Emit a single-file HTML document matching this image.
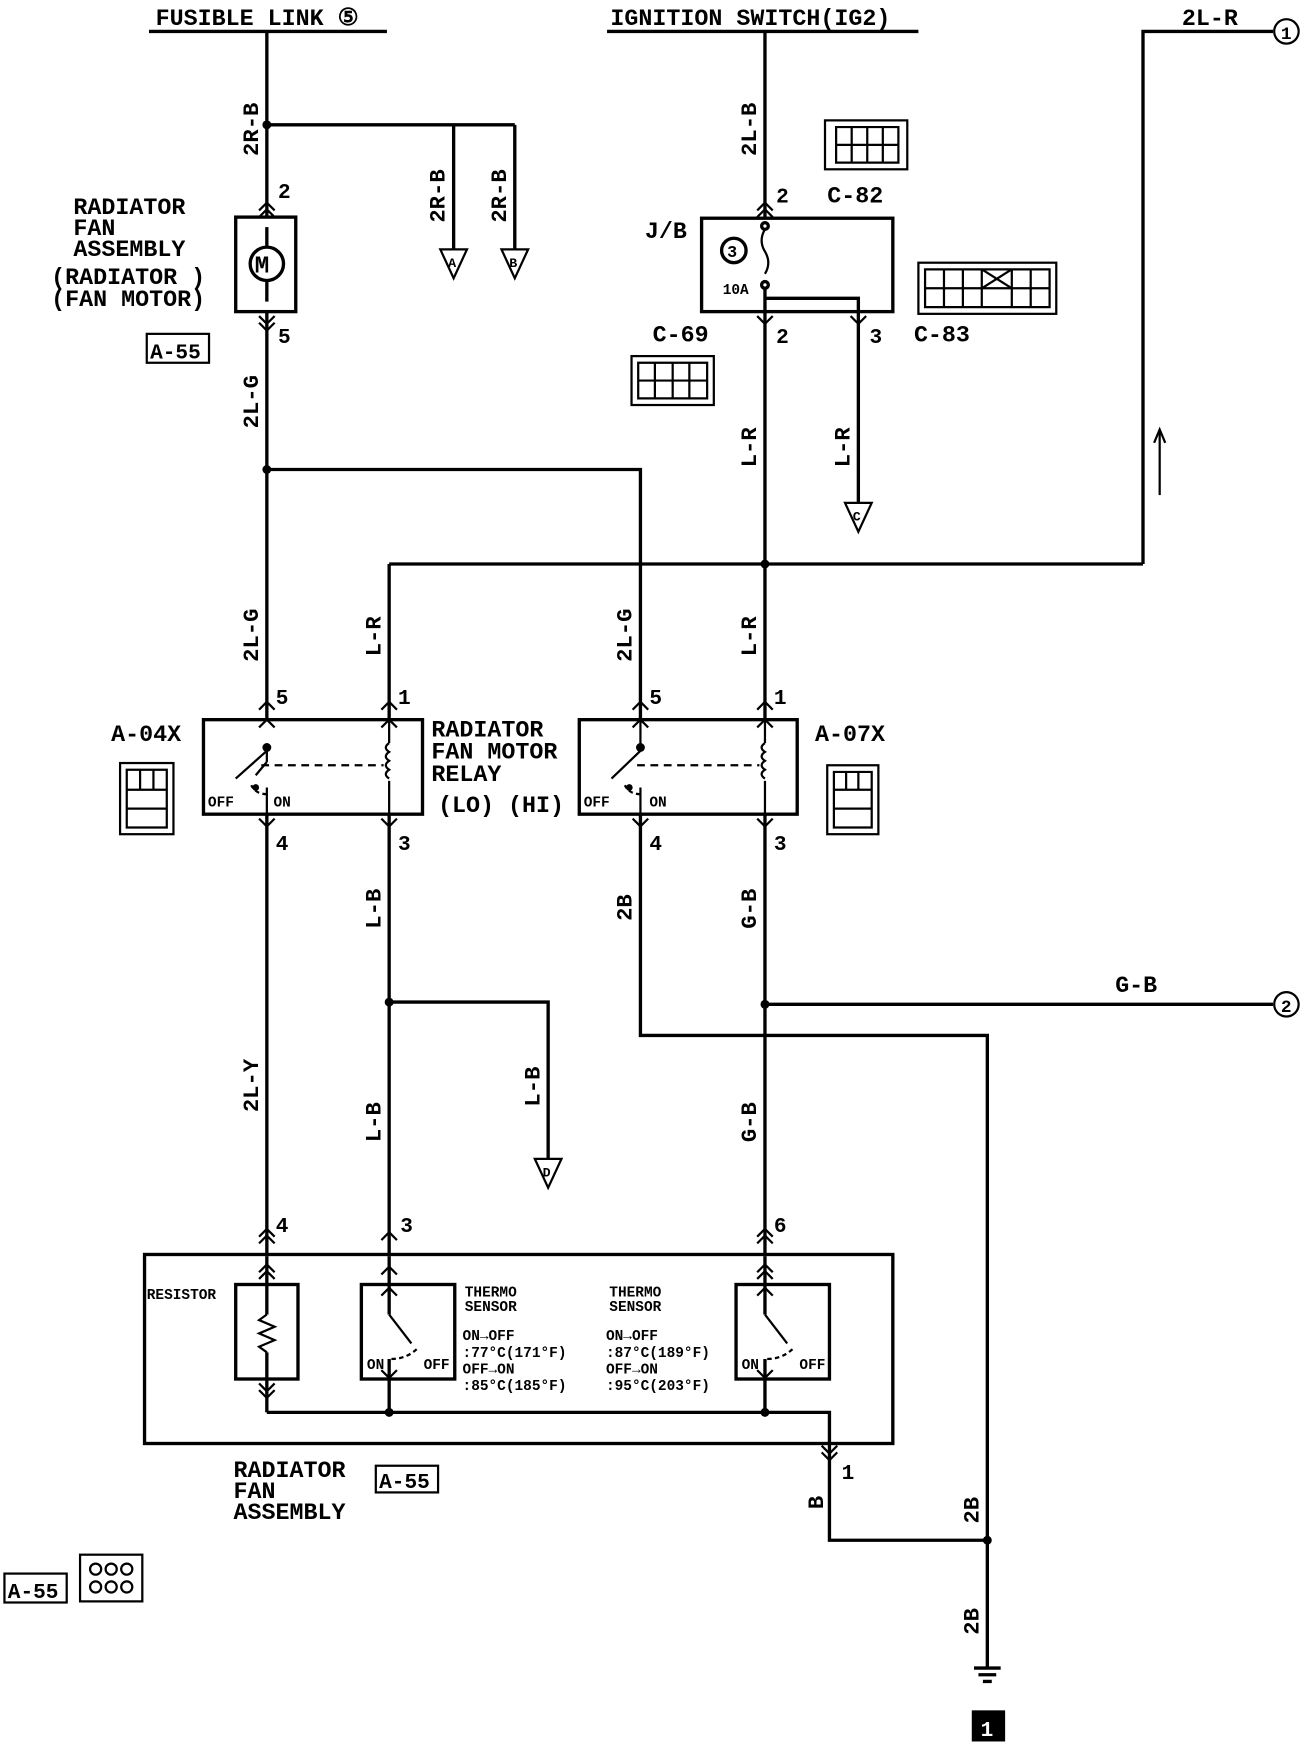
<!DOCTYPE html>
<html><head><meta charset="utf-8"><style>
html,body{margin:0;padding:0;background:#fff}
svg{display:block}
text{font-family:"Liberation Mono",monospace;font-weight:bold}
</style></head><body>
<svg width="1312" height="1744" viewBox="0 0 1180 1568" xmlns="http://www.w3.org/2000/svg">
<g stroke="#000" stroke-width="3" fill="none">
<line x1="134" y1="28" x2="348" y2="28"/>
<line x1="546" y1="28" x2="826" y2="28"/>
<polyline points="1028,507 1028,28 1145,28"/>
<circle cx="1157" cy="28" r="11" stroke-width="2"/>
<line x1="350" y1="507" x2="1028" y2="507"/>
<polyline points="350,647 350,507"/>
<line x1="1043" y1="445" x2="1043" y2="388" stroke-width="2"/>
<path d="M1038,398 L1043,386 L1048,398" stroke-width="2"/>
<line x1="240" y1="28" x2="240" y2="195"/>
<polyline points="240,112 463,112"/>
<line x1="408" y1="112" x2="408" y2="224"/>
<line x1="463" y1="112" x2="463" y2="224"/>
<path d="M396,224 L420,224 L408,250 Z M451,224 L475,224 L463,250 Z" stroke-width="2"/>
<rect x="212" y="195" width="54" height="85"/>
<circle cx="240" cy="237" r="15"/>
<line x1="240" y1="204" x2="240" y2="222"/>
<line x1="240" y1="252" x2="240" y2="271"/>
<line x1="240" y1="280" x2="240" y2="647"/>
<polyline points="240,422 576,422 576,647"/>
<line x1="688" y1="28" x2="688" y2="196"/>
<rect x="631" y="196" width="172" height="84"/>
<circle cx="660" cy="225" r="11"/>
<circle cx="688" cy="203" r="3"/>
<path d="M688,206 Q682,216 688,226 Q694,236 688,246" stroke-width="2"/>
<circle cx="688" cy="256" r="3"/>
<line x1="688" y1="259" x2="688" y2="647"/>
<polyline points="688,268 772,268 772,452"/>
<path d="M760,452 L784,452 L772,478 Z" stroke-width="2"/>
<rect x="183" y="647" width="197" height="85"/>
<rect x="521" y="647" width="196" height="85"/>
<line x1="240" y1="732" x2="240" y2="1130"/>
<line x1="350" y1="732" x2="350" y2="1130"/>
<polyline points="350,901 493,901 493,1042"/>
<path d="M481,1042 L505,1042 L493,1068 Z" stroke-width="2"/>
<polyline points="576,732 576,931 888,931 888,1500"/>
<line x1="688" y1="732" x2="688" y2="1130"/>
<polyline points="688,903 1145,903"/>
<circle cx="1157" cy="903" r="11" stroke-width="2"/>
<rect x="130" y="1128" width="673" height="170"/>
<rect x="212" y="1155" width="56" height="85"/>
<rect x="325" y="1155" width="84" height="85"/>
<rect x="662" y="1155" width="84" height="85"/>
<line x1="240" y1="1130" x2="240" y2="1182"/>
<path d="M240,1182 l-7,5 l14,6 l-14,6 l14,6 l-14,6 l7,5" stroke-width="2"/>
<line x1="240" y1="1216" x2="240" y2="1270"/>
<line x1="350" y1="1130" x2="350" y2="1182"/>
<line x1="350" y1="1270" x2="350" y2="1222"/>
<line x1="688" y1="1130" x2="688" y2="1182"/>
<line x1="688" y1="1270" x2="688" y2="1222"/>
<polyline points="240,1270 746,1270 746,1385 888,1385"/>
<line x1="876" y1="1500" x2="900" y2="1500"/>
<line x1="880" y1="1506" x2="896" y2="1506"/>
<line x1="884" y1="1512" x2="892" y2="1512"/>
<g stroke-width="2">
<line x1="230" y1="697" x2="240" y2="685"/><line x1="240" y1="685" x2="240" y2="672"/>
<line x1="212" y1="700" x2="240" y2="675"/>
<line x1="240" y1="708" x2="240" y2="732"/>
<line x1="550" y1="700" x2="576" y2="675"/><line x1="576" y1="708" x2="576" y2="732"/><line x1="576" y1="647" x2="576" y2="672"/>
<line x1="350" y1="647" x2="350" y2="668"/><line x1="350" y1="702" x2="350" y2="732"/>
<line x1="688" y1="647" x2="688" y2="668"/><line x1="688" y1="702" x2="688" y2="732"/>
<path d="M350,668 q-6,4 0,8 q-6,4 0,8 q-6,4 0,8 q-6,4 0,8" />
<path d="M688,668 q-6,4 0,8 q-6,4 0,8 q-6,4 0,8 q-6,4 0,8" />
<line x1="235" y1="688" x2="345" y2="688" stroke-dasharray="7,5"/>
<line x1="573" y1="688" x2="683" y2="688" stroke-dasharray="7,5"/>
<path d="M240,714 q-10,0 -14,-8" stroke-dasharray="4,3"/>
<path d="M576,714 q-10,0 -14,-8" stroke-dasharray="4,3"/>
<line x1="350" y1="1182" x2="370" y2="1208"/>
<line x1="688" y1="1182" x2="708" y2="1208"/>
<path d="M352,1222 q14,0 24,-10" stroke-dasharray="4,3"/>
<path d="M690,1222 q14,0 24,-10" stroke-dasharray="4,3"/>
</g>
<g stroke-width="2">
<path d="M233,189 l7,-7 l7,7 M233,195 l7,-7 l7,7"/>
<path d="M233,284 l7,7 l7,-7 M233,290 l7,7 l7,-7"/>
<path d="M681,189 l7,-7 l7,7 M681,195 l7,-7 l7,7"/>
<path d="M681,284 l7,7 l7,-7 M765,284 l7,7 l7,-7"/>
<path d="M233,638 l7,-7 l7,7 M343,638 l7,-7 l7,7 M569,638 l7,-7 l7,7 M681,638 l7,-7 l7,7"/>
<path d="M233,654 l7,-7 l7,7 M343,654 l7,-7 l7,7 M569,654 l7,-7 l7,7 M681,654 l7,-7 l7,7"/>
<path d="M233,736 l7,7 l7,-7 M343,736 l7,7 l7,-7 M569,736 l7,7 l7,-7 M681,736 l7,7 l7,-7"/>
<path d="M233,1112 l7,-7 l7,7 M233,1118 l7,-7 l7,7 M343,1115 l7,-7 l7,7 M681,1112 l7,-7 l7,7 M681,1118 l7,-7 l7,7"/>
<path d="M233,1144 l7,-7 l7,7 M233,1150 l7,-7 l7,7 M343,1146 l7,-7 l7,7 M681,1144 l7,-7 l7,7 M681,1150 l7,-7 l7,7"/>
<path d="M343,1165 l7,-7 l7,7 M681,1165 l7,-7 l7,7 M343,1232 l7,7 l7,-7 M681,1232 l7,7 l7,-7"/>
<path d="M233,1244 l7,7 l7,-7 M233,1250 l7,7 l7,-7"/>
<path d="M739,1300 l7,7 l7,-7 M739,1306 l7,7 l7,-7"/>
</g>
<g stroke-width="2">
<rect x="742" y="108" width="74" height="44"/>
<path d="M752,114 h56 v32 h-56 z M752,130 h56 M766,114 v32 M780,114 v32 M794,114 v32"/>
<rect x="826" y="236" width="124" height="46"/>
<path d="M832,242 h112 v34 h-112 z M832,259 h112 M849,242 v34 M866,242 v34 M883,242 v34 M910,242 v34 M927,242 v34 M883,242 l27,17 M910,242 l-27,17"/>
<rect x="568" y="320" width="74" height="44"/>
<path d="M574,326 h62 v32 h-62 z M574,342 h62 M589,326 v32 M605,326 v32 M620,326 v32"/>
<rect x="132" y="300" width="56" height="26"/>
<rect x="108" y="686" width="48" height="64"/>
<path d="M114,692 h36 v52 h-36 z M114,710 h36 M114,727 h36 M126,692 v18 M138,692 v18"/>
<rect x="744" y="688" width="46" height="62"/>
<path d="M750,694 h34 v50 h-34 z M750,710 h34 M750,727 h34 M761,694 v16 M772,694 v16"/>
<rect x="338" y="1318" width="56" height="24"/><rect x="4" y="1415" width="56" height="26"/>
<rect x="72" y="1398" width="56" height="42"/>
<circle cx="86" cy="1411" r="5"/><circle cx="100" cy="1411" r="5"/><circle cx="114" cy="1411" r="5"/>
<circle cx="86" cy="1427" r="5"/><circle cx="100" cy="1427" r="5"/><circle cx="114" cy="1427" r="5"/>
</g>
</g>
<g fill="#000">
<circle cx="240" cy="112" r="4"/><circle cx="240" cy="422" r="4"/><circle cx="688" cy="507" r="4"/>
<circle cx="350" cy="901" r="4"/><circle cx="688" cy="903" r="4"/><circle cx="350" cy="1270" r="4"/>
<circle cx="688" cy="1270" r="4"/><circle cx="888" cy="1385" r="4"/>
<circle cx="240" cy="672" r="4"/><circle cx="576" cy="672" r="4"/><circle cx="230" cy="708" r="3"/><circle cx="566" cy="708" r="3"/>
<rect x="874" y="1538" width="30" height="28"/>
</g>
<g font-size="21" fill="#000">
<text x="140" y="22">FUSIBLE LINK ⑤</text>
<text x="549" y="22">IGNITION SWITCH(IG2)</text>
<text x="1063" y="22">2L-R</text>
<text x="1003" y="892">G-B</text>
<text x="66" y="192">RADIATOR</text><text x="66" y="211">FAN</text><text x="66" y="230">ASSEMBLY</text>
<text x="46" y="255">(RADIATOR )</text><text x="46" y="275">(FAN MOTOR)</text>
<text x="388" y="662">RADIATOR</text><text x="388" y="682">FAN MOTOR</text><text x="388" y="702">RELAY</text>
<text x="394" y="730">(LO)  (HI)</text>
<text x="100" y="666">A-04X</text><text x="733" y="666">A-07X</text>
<text x="744" y="182">C-82</text><text x="822" y="307">C-83</text><text x="587" y="307">C-69</text>
<text x="580" y="214">J/B</text>
<text x="210" y="1328">RADIATOR</text><text x="210" y="1347">FAN</text><text x="210" y="1366">ASSEMBLY</text>
</g>
<g font-size="19" fill="#000">
<text x="250" y="178">2</text><text x="250" y="308">5</text>
<text x="698" y="182">2</text><text x="698" y="308">2</text><text x="782" y="308">3</text>
<text x="248" y="633">5</text><text x="358" y="633">1</text><text x="584" y="633">5</text><text x="696" y="633">1</text>
<text x="248" y="764">4</text><text x="358" y="764">3</text><text x="584" y="764">4</text><text x="696" y="764">3</text>
<text x="248" y="1108">4</text><text x="360" y="1108">3</text><text x="696" y="1108">6</text>
<text x="757" y="1330">1</text>
<text x="135" y="322">A-55</text><text x="341" y="1338">A-55</text><text x="7" y="1437">A-55</text>
<text x="650" y="264" font-size="13">10A</text>
<text x="654" y="231" font-size="15">3</text>
<text x="229" y="245" font-size="22">M</text>
<text x="1152" y="35" font-size="16">1</text>
<text x="1152" y="910" font-size="16">2</text>
<text x="882" y="1561" style="fill:#fff">1</text>
</g>
<g font-size="13" fill="#000">
<text x="187" y="725">OFF</text><text x="246" y="725">ON</text>
<text x="525" y="725">OFF</text><text x="584" y="725">ON</text>
<text x="132" y="1168">RESISTOR</text>
<text x="330" y="1231">ON</text><text x="381" y="1231">OFF</text>
<text x="667" y="1231">ON</text><text x="719" y="1231">OFF</text>
<text x="418" y="1166">THERMO</text><text x="418" y="1179">SENSOR</text>
<text x="548" y="1166">THERMO</text><text x="548" y="1179">SENSOR</text>
<text x="416" y="1205">ON→OFF</text><text x="416" y="1220">:77°C(171°F)</text>
<text x="416" y="1235">OFF→ON</text><text x="416" y="1250">:85°C(185°F)</text>
<text x="545" y="1205">ON→OFF</text><text x="545" y="1220">:87°C(189°F)</text>
<text x="545" y="1235">OFF→ON</text><text x="545" y="1250">:95°C(203°F)</text>
<text x="403" y="240" font-size="12">A</text><text x="458" y="240" font-size="12">B</text>
<text x="767" y="468" font-size="12">C</text><text x="488" y="1058" font-size="12">D</text>
</g>
<g font-size="20" fill="#000">
<text transform="translate(232,140) rotate(-90)">2R-B</text>
<text transform="translate(400,200) rotate(-90)">2R-B</text>
<text transform="translate(455,200) rotate(-90)">2R-B</text>
<text transform="translate(232,385) rotate(-90)">2L-G</text>
<text transform="translate(680,140) rotate(-90)">2L-B</text>
<text transform="translate(680,420) rotate(-90)">L-R</text>
<text transform="translate(764,420) rotate(-90)">L-R</text>
<text transform="translate(232,595) rotate(-90)">2L-G</text>
<text transform="translate(342,590) rotate(-90)">L-R</text>
<text transform="translate(568,595) rotate(-90)">2L-G</text>
<text transform="translate(680,590) rotate(-90)">L-R</text>
<text transform="translate(342,835) rotate(-90)">L-B</text>
<text transform="translate(568,828) rotate(-90)">2B</text>
<text transform="translate(680,835) rotate(-90)">G-B</text>
<text transform="translate(232,1000) rotate(-90)">2L-Y</text>
<text transform="translate(342,1027) rotate(-90)">L-B</text>
<text transform="translate(485,995) rotate(-90)">L-B</text>
<text transform="translate(680,1027) rotate(-90)">G-B</text>
<text transform="translate(740,1357) rotate(-90)">B</text>
<text transform="translate(880,1370) rotate(-90)">2B</text>
<text transform="translate(880,1470) rotate(-90)">2B</text>
</g>
</svg>
</body></html>
